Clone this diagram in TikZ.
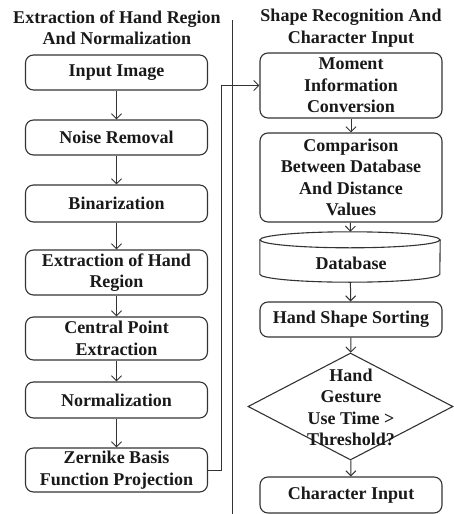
\documentclass[tikz,border=0pt]{standalone}
\usepackage{fontspec}
\setmainfont{Liberation Serif}
\usetikzlibrary{shapes.geometric,arrows.meta}

\begin{document}
\begin{tikzpicture}
[x=1pt, y=-1pt,
every node/.style={font=\fontsize{18}{21.5}\selectfont\bfseries, align=center, text=black!90},
stage/.style={draw=black!80, line width=1.1pt, rounded corners=8pt, minimum width=182pt, inner sep=0pt},
store/.style={minimum width=180pt, minimum height=50pt, inner sep=0pt},
wall/.style={draw=black!80, line width=1.1pt},
test/.style={draw=black!80, line width=1.1pt, diamond, minimum width=205pt, minimum height=107pt, inner sep=0pt},
flow/.style={draw=black!80, line width=1pt, -{Straight Barb[length=5pt,width=10pt]}}]

\useasboundingbox (0,0) rectangle (453,514);

\node (headL) at (117,28) {Extraction of Hand Region\\And Normalization};
\node (headR) at (351,28) {Shape Recognition And\\Character Input};
\draw[black!80, line width=1pt] (232,20) -- (232,514);

\node[stage, minimum height=35pt] (input) at (116.5,72.5) {Input Image};
\node[stage, minimum height=35pt] (noise) at (116.5,137.5) {Noise Removal};
\node[stage, minimum height=37pt] (binar) at (116.5,203.5) {Binarization};
\node[stage, minimum height=45pt] (region) at (116.5,272.5) {Extraction of Hand\\Region};
\node[stage, minimum height=43pt] (centre) at (116.5,338.5) {Central Point\\Extraction};
\node[stage, minimum height=36pt] (normal) at (116.5,400) {Normalization};
\node[stage, minimum height=44pt] (zernike) at (116.5,470) {Zernike Basis\\Function Projection};

\node[stage, minimum height=65pt] (moment) at (351,85.5) {Moment\\Information\\Conversion};
\node[stage, minimum height=89pt] (compare) at (351,177.5) {Comparison\\Between Database\\And Distance\\Values};
\node[store] (db) at (350,257) {};
\draw[wall] ([yshift=-8pt]db.north) ellipse [x radius=90pt, y radius=8pt];
\draw[wall] ([yshift=-8pt]db.north west) -- ([yshift=8pt]db.south west)
  arc[start angle=180, end angle=360, x radius=90pt, y radius=8pt] -- ([yshift=-8pt]db.north east);
\node (dbtext) at (351,263) {Database};
\node[stage, minimum height=35pt] (sort) at (351,319.5) {Hand Shape Sorting};
\node[test] (gesture) at (350.5,406.5) {};
\node (gesturetext) at (351,407.5) {Hand\\Gesture\\Use Time >\\Threshold?};
\node[stage, minimum height=36pt] (chars) at (351,495) {Character Input};

\draw[flow] (input) -- (noise);
\draw[flow] (noise) -- (binar);
\draw[flow] (binar) -- (region);
\draw[flow] (region) -- (centre);
\draw[flow] (centre) -- (normal);
\draw[flow] (normal) -- (zernike);
\draw[flow] (zernike.east) -- ++(13,0) |- (moment.west);
\draw[flow] (moment) -- (compare);
\draw[flow] (compare) -- (db);
\draw[flow] (db) -- (sort);
\draw[flow] (sort) -- (gesture);
\draw[flow] (gesture) -- (chars);
\end{tikzpicture}
\end{document}
